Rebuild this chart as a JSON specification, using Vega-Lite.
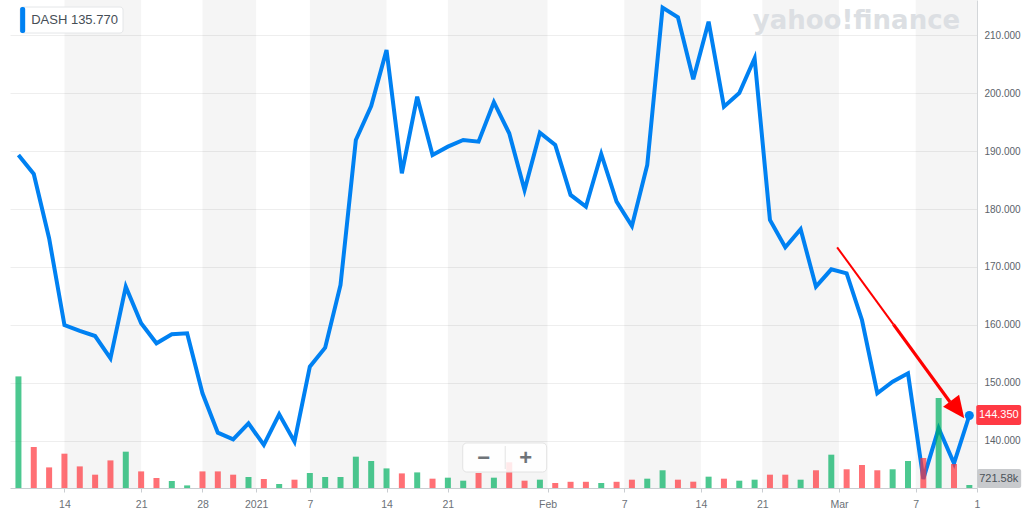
{
  "$schema": "https://vega.github.io/schema/vega-lite/v6.json",
  "width": 967,
  "height": 488,
  "autosize": {"type": "none"},
  "padding": {"left": 10, "top": 0, "right": 47, "bottom": 29},
  "background": "white",
  "config": {"view": {"stroke": null}, "font": "Liberation Sans", "scale": {"continuousPadding": 0}},
  "datasets": {
    "prices": [
      {"date": "2020-12-09", "i": 0, "price": 189.34, "vol": 27.9, "dir": "up"},
      {"date": "2020-12-10", "i": 1, "price": 186.06, "vol": 10.25, "dir": "down"},
      {"date": "2020-12-11", "i": 2, "price": 174.96, "vol": 5.15, "dir": "down"},
      {"date": "2020-12-14", "i": 3, "price": 159.98, "vol": 8.58, "dir": "down"},
      {"date": "2020-12-15", "i": 4, "price": 158.95, "vol": 5.4, "dir": "down"},
      {"date": "2020-12-16", "i": 5, "price": 158.08, "vol": 3.33, "dir": "down"},
      {"date": "2020-12-17", "i": 6, "price": 154.23, "vol": 6.9, "dir": "down"},
      {"date": "2020-12-18", "i": 7, "price": 166.6, "vol": 9.08, "dir": "up"},
      {"date": "2020-12-21", "i": 8, "price": 160.28, "vol": 4.15, "dir": "down"},
      {"date": "2020-12-22", "i": 9, "price": 156.82, "vol": 2.5, "dir": "down"},
      {"date": "2020-12-23", "i": 10, "price": 158.38, "vol": 1.75, "dir": "up"},
      {"date": "2020-12-24", "i": 11, "price": 158.55, "vol": 0.65, "dir": "up"},
      {"date": "2020-12-28", "i": 12, "price": 148.19, "vol": 4.15, "dir": "down"},
      {"date": "2020-12-29", "i": 13, "price": 141.38, "vol": 4.15, "dir": "down"},
      {"date": "2020-12-30", "i": 14, "price": 140.24, "vol": 3.33, "dir": "down"},
      {"date": "2020-12-31", "i": 15, "price": 143.0, "vol": 2.75, "dir": "up"},
      {"date": "2021-01-04", "i": 16, "price": 139.26, "vol": 2.25, "dir": "down"},
      {"date": "2021-01-05", "i": 17, "price": 144.56, "vol": 1.0, "dir": "up"},
      {"date": "2021-01-06", "i": 18, "price": 139.83, "vol": 2.08, "dir": "down"},
      {"date": "2021-01-07", "i": 19, "price": 152.78, "vol": 3.75, "dir": "up"},
      {"date": "2021-01-08", "i": 20, "price": 156.06, "vol": 2.75, "dir": "up"},
      {"date": "2021-01-11", "i": 21, "price": 166.89, "vol": 2.75, "dir": "up"},
      {"date": "2021-01-12", "i": 22, "price": 191.93, "vol": 7.83, "dir": "up"},
      {"date": "2021-01-13", "i": 23, "price": 197.81, "vol": 6.75, "dir": "up"},
      {"date": "2021-01-14", "i": 24, "price": 207.48, "vol": 4.9, "dir": "up"},
      {"date": "2021-01-15", "i": 25, "price": 186.18, "vol": 3.65, "dir": "down"},
      {"date": "2021-01-19", "i": 26, "price": 199.41, "vol": 3.9, "dir": "up"},
      {"date": "2021-01-20", "i": 27, "price": 189.34, "vol": 2.33, "dir": "down"},
      {"date": "2021-01-21", "i": 28, "price": 190.78, "vol": 2.58, "dir": "up"},
      {"date": "2021-01-22", "i": 29, "price": 191.93, "vol": 1.83, "dir": "up"},
      {"date": "2021-01-25", "i": 30, "price": 191.64, "vol": 3.75, "dir": "down"},
      {"date": "2021-01-26", "i": 31, "price": 198.46, "vol": 2.58, "dir": "up"},
      {"date": "2021-01-27", "i": 32, "price": 193.09, "vol": 6.43, "dir": "down"},
      {"date": "2021-01-28", "i": 33, "price": 183.3, "vol": 1.83, "dir": "down"},
      {"date": "2021-01-29", "i": 34, "price": 193.2, "vol": 2.08, "dir": "up"},
      {"date": "2021-02-01", "i": 35, "price": 191.07, "vol": 1.25, "dir": "down"},
      {"date": "2021-02-02", "i": 36, "price": 182.44, "vol": 1.55, "dir": "down"},
      {"date": "2021-02-03", "i": 37, "price": 180.41, "vol": 1.55, "dir": "down"},
      {"date": "2021-02-04", "i": 38, "price": 189.52, "vol": 1.25, "dir": "up"},
      {"date": "2021-02-05", "i": 39, "price": 181.28, "vol": 1.55, "dir": "down"},
      {"date": "2021-02-08", "i": 40, "price": 177.08, "vol": 2.08, "dir": "down"},
      {"date": "2021-02-09", "i": 41, "price": 187.62, "vol": 2.33, "dir": "up"},
      {"date": "2021-02-10", "i": 42, "price": 214.8, "vol": 4.43, "dir": "up"},
      {"date": "2021-02-11", "i": 43, "price": 213.13, "vol": 2.08, "dir": "down"},
      {"date": "2021-02-12", "i": 44, "price": 202.42, "vol": 1.58, "dir": "down"},
      {"date": "2021-02-16", "i": 45, "price": 212.37, "vol": 2.83, "dir": "up"},
      {"date": "2021-02-17", "i": 46, "price": 197.69, "vol": 2.33, "dir": "down"},
      {"date": "2021-02-18", "i": 47, "price": 200.05, "vol": 1.83, "dir": "up"},
      {"date": "2021-02-19", "i": 48, "price": 206.04, "vol": 2.08, "dir": "up"},
      {"date": "2021-02-22", "i": 49, "price": 178.12, "vol": 3.33, "dir": "down"},
      {"date": "2021-02-23", "i": 50, "price": 173.4, "vol": 3.33, "dir": "down"},
      {"date": "2021-02-24", "i": 51, "price": 176.51, "vol": 2.08, "dir": "up"},
      {"date": "2021-02-25", "i": 52, "price": 166.6, "vol": 4.43, "dir": "down"},
      {"date": "2021-02-26", "i": 53, "price": 169.6, "vol": 8.33, "dir": "up"},
      {"date": "2021-03-01", "i": 54, "price": 168.91, "vol": 4.68, "dir": "down"},
      {"date": "2021-03-02", "i": 55, "price": 160.85, "vol": 5.75, "dir": "down"},
      {"date": "2021-03-03", "i": 56, "price": 148.19, "vol": 4.43, "dir": "down"},
      {"date": "2021-03-04", "i": 57, "price": 150.19, "vol": 4.68, "dir": "up"},
      {"date": "2021-03-05", "i": 58, "price": 151.64, "vol": 6.75, "dir": "up"},
      {"date": "2021-03-08", "i": 59, "price": 133.4, "vol": 7.5, "dir": "down"},
      {"date": "2021-03-09", "i": 60, "price": 142.14, "vol": 22.5, "dir": "up"},
      {"date": "2021-03-10", "i": 61, "price": 136.1, "vol": 6.0, "dir": "down"},
      {"date": "2021-03-11", "i": 62, "price": 144.35, "vol": 0.75, "dir": "up"}
    ],
    "bands": [
      {"from": 3, "to": 8},
      {"from": 12, "to": 15.5},
      {"from": 19, "to": 24},
      {"from": 28, "to": 34.5},
      {"from": 39.5, "to": 44.5},
      {"from": 48.5, "to": 53.5},
      {"from": 58.5, "to": 62.5}
    ]
  },
  "resolve": {"scale": {"y": "independent"}},
  "layer": [
    {
      "layer": [
        {
          "data": {"name": "bands"},
          "mark": {"type": "rect", "color": "#000000", "opacity": 0.04},
          "encoding": {
            "x": {
              "field": "from", "type": "quantitative", "title": null,
              "scale": {"domain": [-0.55, 62.5], "nice": false, "zero": false, "padding": 0},
              "axis": {
                "title": null, "orient": "bottom", "grid": false,
                "values": [3, 8, 12, 15.5, 19, 24, 28, 34.5, 39.5, 44.5, 48.5, 53.5, 58.5, 62.5],
                "labelExpr": "datum.value == 3 ? '14' : datum.value == 8 ? '21' : datum.value == 12 ? '28' : datum.value == 15.5 ? '2021' : datum.value == 19 ? '7' : datum.value == 24 ? '14' : datum.value == 28 ? '21' : datum.value == 34.5 ? 'Feb' : datum.value == 39.5 ? '7' : datum.value == 44.5 ? '14' : datum.value == 48.5 ? '21' : datum.value == 53.5 ? 'Mar' : datum.value == 58.5 ? '7' : '1'",
                "labelFlush": false, "labelOverlap": false,
                "tickSize": 4, "labelPadding": 7,
                "domainColor": "#c9cdd1", "tickColor": "#c9cdd1",
                "labelColor": "#6b7177", "labelFontSize": 10.5
              }
            },
            "x2": {"field": "to"}
          }
        },
        {
          "data": {"name": "prices"},
          "mark": {"type": "line", "color": "#0081f2", "strokeWidth": 4, "strokeJoin": "miter"},
          "encoding": {
            "x": {"field": "i", "type": "quantitative", "title": null, "scale": {"domain": [-0.55, 62.5], "nice": false, "zero": false, "padding": 0}},
            "y": {
              "field": "price", "type": "quantitative",
              "scale": {"domain": [131.83, 216.11], "nice": false, "zero": false},
              "axis": {
                "title": null, "orient": "right",
                "values": [140, 150, 160, 170, 180, 190, 200, 210],
                "format": ".3f", "grid": true, "gridColor": "#eeeeee",
                "domain": true, "domainColor": "#d3d6d9", "ticks": false,
                "labelPadding": 7, "labelColor": "#5b636a", "labelFontSize": 10
              }
            }
          }
        }
      ]
    },
    {
      "data": {"name": "prices"},
      "mark": {"type": "bar", "size": 6, "opacity": 0.7},
      "encoding": {
        "x": {"field": "i", "type": "quantitative", "title": null, "scale": {"domain": [-0.55, 62.5], "nice": false, "zero": false, "padding": 0}},
        "y": {"field": "vol", "type": "quantitative", "scale": {"domain": [0, 122], "nice": false}, "axis": null},
        "color": {"field": "dir", "type": "nominal", "scale": {"domain": ["up", "down"], "range": ["#00b061", "#ff333a"]}, "legend": null}
      }
    },
    {
      "layer": [
        {
          "data": {"name": "prices"},
          "transform": [{"filter": "datum.i == 62"}],
          "mark": {"type": "circle", "size": 81, "opacity": 1, "color": "#0081f2"},
          "encoding": {
            "x": {"field": "i", "type": "quantitative", "title": null, "scale": {"domain": [-0.55, 62.5], "nice": false, "zero": false, "padding": 0}},
            "y": {"field": "price", "type": "quantitative", "scale": {"domain": [131.83, 216.11], "nice": false, "zero": false}, "axis": null}
          }
        },
        {
          "data": {"values": [{}]},
          "mark": {"type": "rule", "color": "#ff0000", "strokeWidth": 2},
          "encoding": {
            "x": {"datum": 53.38, "type": "quantitative", "title": null, "scale": {"domain": [-0.55, 62.5], "nice": false, "zero": false, "padding": 0}},
            "y": {"datum": 173.4, "type": "quantitative", "scale": {"domain": [131.83, 216.11], "nice": false, "zero": false}, "axis": null},
            "x2": {"datum": 57.05},
            "y2": {"datum": 160.08}
          }
        },
        {
          "data": {"values": [{}]},
          "mark": {"type": "rule", "color": "#ff0000", "strokeWidth": 3.2},
          "encoding": {
            "x": {"datum": 57.05, "type": "quantitative", "title": null, "scale": {"domain": [-0.55, 62.5], "nice": false, "zero": false, "padding": 0}},
            "y": {"datum": 160.08, "type": "quantitative", "scale": {"domain": [131.83, 216.11], "nice": false, "zero": false}, "axis": null},
            "x2": {"datum": 60.74},
            "y2": {"datum": 146.68}
          }
        },
        {
          "data": {"values": [{}]},
          "mark": {"type": "point", "shape": "M0,-1.2L-1,1L1,1Z", "filled": true, "opacity": 1, "color": "#ff0000", "size": 400, "angle": 143.3},
          "encoding": {
            "x": {"datum": 61.2, "type": "quantitative", "title": null, "scale": {"domain": [-0.55, 62.5], "nice": false, "zero": false, "padding": 0}},
            "y": {"datum": 145.53, "type": "quantitative", "scale": {"domain": [131.83, 216.11], "nice": false, "zero": false}, "axis": null}
          }
        },
        {
          "data": {"values": [{}]},
          "mark": {"type": "rect", "fill": "#ffffff", "stroke": "#e4e6e8", "strokeWidth": 1, "cornerRadius": 3},
          "encoding": {
            "x": {"datum": 0.11, "type": "quantitative", "title": null, "scale": {"domain": [-0.55, 62.5], "nice": false, "zero": false, "padding": 0}},
            "x2": {"datum": 6.82},
            "y": {"datum": 214.9, "type": "quantitative", "scale": {"domain": [131.83, 216.11], "nice": false, "zero": false}, "axis": null},
            "y2": {"datum": 210.41}
          }
        },
        {
          "data": {"values": [{}]},
          "mark": {"type": "rect", "fill": "#0081f2", "cornerRadius": 2},
          "encoding": {
            "x": {"datum": 0.11, "type": "quantitative", "title": null, "scale": {"domain": [-0.55, 62.5], "nice": false, "zero": false, "padding": 0}},
            "x2": {"datum": 0.44},
            "y": {"datum": 214.9, "type": "quantitative", "scale": {"domain": [131.83, 216.11], "nice": false, "zero": false}, "axis": null},
            "y2": {"datum": 210.41}
          }
        },
        {
          "data": {"values": [{}]},
          "mark": {"type": "text", "text": "DASH 135.770", "align": "left", "baseline": "middle", "fontSize": 13, "color": "#464e56"},
          "encoding": {
            "x": {"datum": 0.83, "type": "quantitative", "title": null, "scale": {"domain": [-0.55, 62.5], "nice": false, "zero": false, "padding": 0}},
            "y": {"datum": 212.66, "type": "quantitative", "scale": {"domain": [131.83, 216.11], "nice": false, "zero": false}, "axis": null}
          }
        },
        {
          "data": {"values": [{}]},
          "mark": {"type": "text", "text": "yahoo!finance", "align": "center", "baseline": "alphabetic", "font": "DejaVu Sans", "fontWeight": "bold", "fontSize": 26, "color": "#dcdfe3"},
          "encoding": {
            "x": {"datum": 54.64, "type": "quantitative", "title": null, "scale": {"domain": [-0.55, 62.5], "nice": false, "zero": false, "padding": 0}},
            "y": {"datum": 211.1, "type": "quantitative", "scale": {"domain": [131.83, 216.11], "nice": false, "zero": false}, "axis": null}
          }
        },
        {
          "data": {"values": [{}]},
          "mark": {"type": "rect", "fill": "#ff3a44", "cornerRadius": 2},
          "encoding": {
            "x": {"datum": 62.45, "type": "quantitative", "title": null, "scale": {"domain": [-0.55, 62.5], "nice": false, "zero": false, "padding": 0}},
            "x2": {"datum": 65.38},
            "y": {"datum": 146.17, "type": "quantitative", "scale": {"domain": [131.83, 216.11], "nice": false, "zero": false}, "axis": null},
            "y2": {"datum": 142.71}
          }
        },
        {
          "data": {"values": [{}]},
          "mark": {"type": "text", "text": "144.350", "align": "center", "baseline": "middle", "fontSize": 11, "color": "#ffffff"},
          "encoding": {
            "x": {"datum": 63.92, "type": "quantitative", "title": null, "scale": {"domain": [-0.55, 62.5], "nice": false, "zero": false, "padding": 0}},
            "y": {"datum": 144.44, "type": "quantitative", "scale": {"domain": [131.83, 216.11], "nice": false, "zero": false}, "axis": null}
          }
        },
        {
          "data": {"values": [{}]},
          "mark": {"type": "rect", "fill": "#c8cacd", "cornerRadius": 2},
          "encoding": {
            "x": {"datum": 62.51, "type": "quantitative", "title": null, "scale": {"domain": [-0.55, 62.5], "nice": false, "zero": false, "padding": 0}},
            "x2": {"datum": 65.38},
            "y": {"datum": 135.11, "type": "quantitative", "scale": {"domain": [131.83, 216.11], "nice": false, "zero": false}, "axis": null},
            "y2": {"datum": 131.83}
          }
        },
        {
          "data": {"values": [{}]},
          "mark": {"type": "text", "text": "721.58k", "align": "center", "baseline": "middle", "fontSize": 11, "color": "#4b5259"},
          "encoding": {
            "x": {"datum": 63.92, "type": "quantitative", "title": null, "scale": {"domain": [-0.55, 62.5], "nice": false, "zero": false, "padding": 0}},
            "y": {"datum": 133.47, "type": "quantitative", "scale": {"domain": [131.83, 216.11], "nice": false, "zero": false}, "axis": null}
          }
        },
        {
          "data": {"values": [{}]},
          "mark": {"type": "rect", "fill": "#ffffff", "fillOpacity": 0.85, "stroke": "#e3e3e3", "strokeWidth": 1, "cornerRadius": 4},
          "encoding": {
            "x": {"datum": 28.97, "type": "quantitative", "title": null, "scale": {"domain": [-0.55, 62.5], "nice": false, "zero": false, "padding": 0}},
            "x2": {"datum": 34.44},
            "y": {"datum": 139.6, "type": "quantitative", "scale": {"domain": [131.83, 216.11], "nice": false, "zero": false}, "axis": null},
            "y2": {"datum": 134.59}
          }
        },
        {
          "data": {"values": [{}]},
          "mark": {"type": "rule", "color": "#e3e3e3", "strokeWidth": 1},
          "encoding": {
            "x": {"datum": 31.74, "type": "quantitative", "title": null, "scale": {"domain": [-0.55, 62.5], "nice": false, "zero": false, "padding": 0}},
            "y": {"datum": 139.08, "type": "quantitative", "scale": {"domain": [131.83, 216.11], "nice": false, "zero": false}, "axis": null},
            "y2": {"datum": 135.11}
          }
        },
        {
          "data": {"values": [{}]},
          "mark": {"type": "text", "text": "−", "align": "center", "baseline": "middle", "fontSize": 22, "fontWeight": "bold", "color": "#6e7378"},
          "encoding": {
            "x": {"datum": 30.34, "type": "quantitative", "title": null, "scale": {"domain": [-0.55, 62.5], "nice": false, "zero": false, "padding": 0}},
            "y": {"datum": 137.01, "type": "quantitative", "scale": {"domain": [131.83, 216.11], "nice": false, "zero": false}, "axis": null}
          }
        },
        {
          "data": {"values": [{}]},
          "mark": {"type": "text", "text": "+", "align": "center", "baseline": "middle", "fontSize": 22, "fontWeight": "bold", "color": "#6e7378"},
          "encoding": {
            "x": {"datum": 33.07, "type": "quantitative", "title": null, "scale": {"domain": [-0.55, 62.5], "nice": false, "zero": false, "padding": 0}},
            "y": {"datum": 137.01, "type": "quantitative", "scale": {"domain": [131.83, 216.11], "nice": false, "zero": false}, "axis": null}
          }
        }
      ]
    }
  ]
}
